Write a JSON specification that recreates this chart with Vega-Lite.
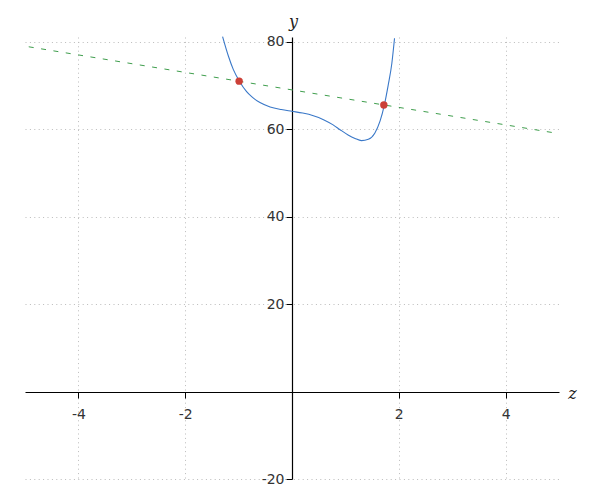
{
  "$schema": "https://vega.github.io/schema/vega-lite/v6.json",
  "autosize": {"type": "none"},
  "padding": {"left": 25, "top": 37, "right": 41, "bottom": 21},
  "width": 534,
  "height": 442,
  "background": "white",
  "config": {
    "view": {"stroke": null},
    "axis": {
      "labelFont": "DejaVu Sans",
      "labelFontSize": 14,
      "labelColor": "#333333",
      "labelExpr": "'' + datum.value",
      "domainColor": "#000000",
      "domainWidth": 1.2,
      "tickColor": "#000000",
      "tickSize": 6,
      "gridColor": "#bbbbbb",
      "gridDash": [1, 3.4],
      "gridWidth": 1,
      "titleFont": "DejaVu Serif",
      "titleFontStyle": "italic",
      "titleFontWeight": "normal",
      "titleFontSize": 16,
      "titleColor": "#222222"
    }
  },
  "datasets": {
    "curve": [
      {"x": -1.30, "y": 81.2},
      {"x": -1.19, "y": 76.7},
      {"x": -1.10, "y": 73.7},
      {"x": -0.99, "y": 71.1},
      {"x": -0.85, "y": 68.6},
      {"x": -0.75, "y": 67.4},
      {"x": -0.60, "y": 66.1},
      {"x": -0.41, "y": 65.1},
      {"x": -0.20, "y": 64.5},
      {"x": 0.00, "y": 64.1},
      {"x": 0.20, "y": 63.7},
      {"x": 0.40, "y": 63.1},
      {"x": 0.59, "y": 62.2},
      {"x": 0.77, "y": 61.0},
      {"x": 0.90, "y": 59.9},
      {"x": 1.05, "y": 58.7},
      {"x": 1.18, "y": 57.9},
      {"x": 1.30, "y": 57.4},
      {"x": 1.43, "y": 57.7},
      {"x": 1.55, "y": 59.1},
      {"x": 1.65, "y": 61.9},
      {"x": 1.73, "y": 65.6},
      {"x": 1.80, "y": 70.0},
      {"x": 1.87, "y": 75.1},
      {"x": 1.92, "y": 80.8}
    ],
    "line": [
      {"x": -4.93, "y": 78.86},
      {"x": 5, "y": 59}
    ],
    "points": [
      {"x": -0.99, "y": 71.0},
      {"x": 1.72, "y": 65.56}
    ]
  },
  "layer": [
    {
      "data": {"name": "line"},
      "mark": {"type": "line", "color": "#3f9e4d", "strokeWidth": 1, "strokeDash": [5, 7.5]},
      "encoding": {
        "x": {
          "field": "x", "type": "quantitative",
          "scale": {"domain": [-5, 5], "nice": false, "zero": false},
          "axis": {
            "values": [-4, -2, 2, 4],
            "offset": -87,
            "labelPadding": 9,
            "title": "z",
            "titleX": 547,
            "titleY": 1,
            "titleBaseline": "middle",
            "titleAlign": "center",
            "grid": true
          }
        },
        "y": {
          "field": "y", "type": "quantitative",
          "scale": {"domain": [-20, 81.1], "nice": false, "zero": false},
          "axis": {
            "values": [-20, 20, 40, 60, 80],
            "offset": -267,
            "labelPadding": 2,
            "title": "y",
            "titleAngle": 0,
            "titleX": 1,
            "titleY": -16,
            "titleBaseline": "middle",
            "titleAlign": "center",
            "grid": true
          }
        }
      }
    },
    {
      "data": {"name": "curve"},
      "mark": {"type": "line", "color": "#3a78c8", "strokeWidth": 1.1, "interpolate": "monotone"},
      "encoding": {
        "x": {"field": "x", "type": "quantitative"},
        "y": {"field": "y", "type": "quantitative"}
      }
    },
    {
      "data": {"name": "points"},
      "mark": {"type": "point", "filled": true, "color": "#cc4038", "opacity": 1, "size": 55},
      "encoding": {
        "x": {"field": "x", "type": "quantitative"},
        "y": {"field": "y", "type": "quantitative"}
      }
    }
  ]
}
